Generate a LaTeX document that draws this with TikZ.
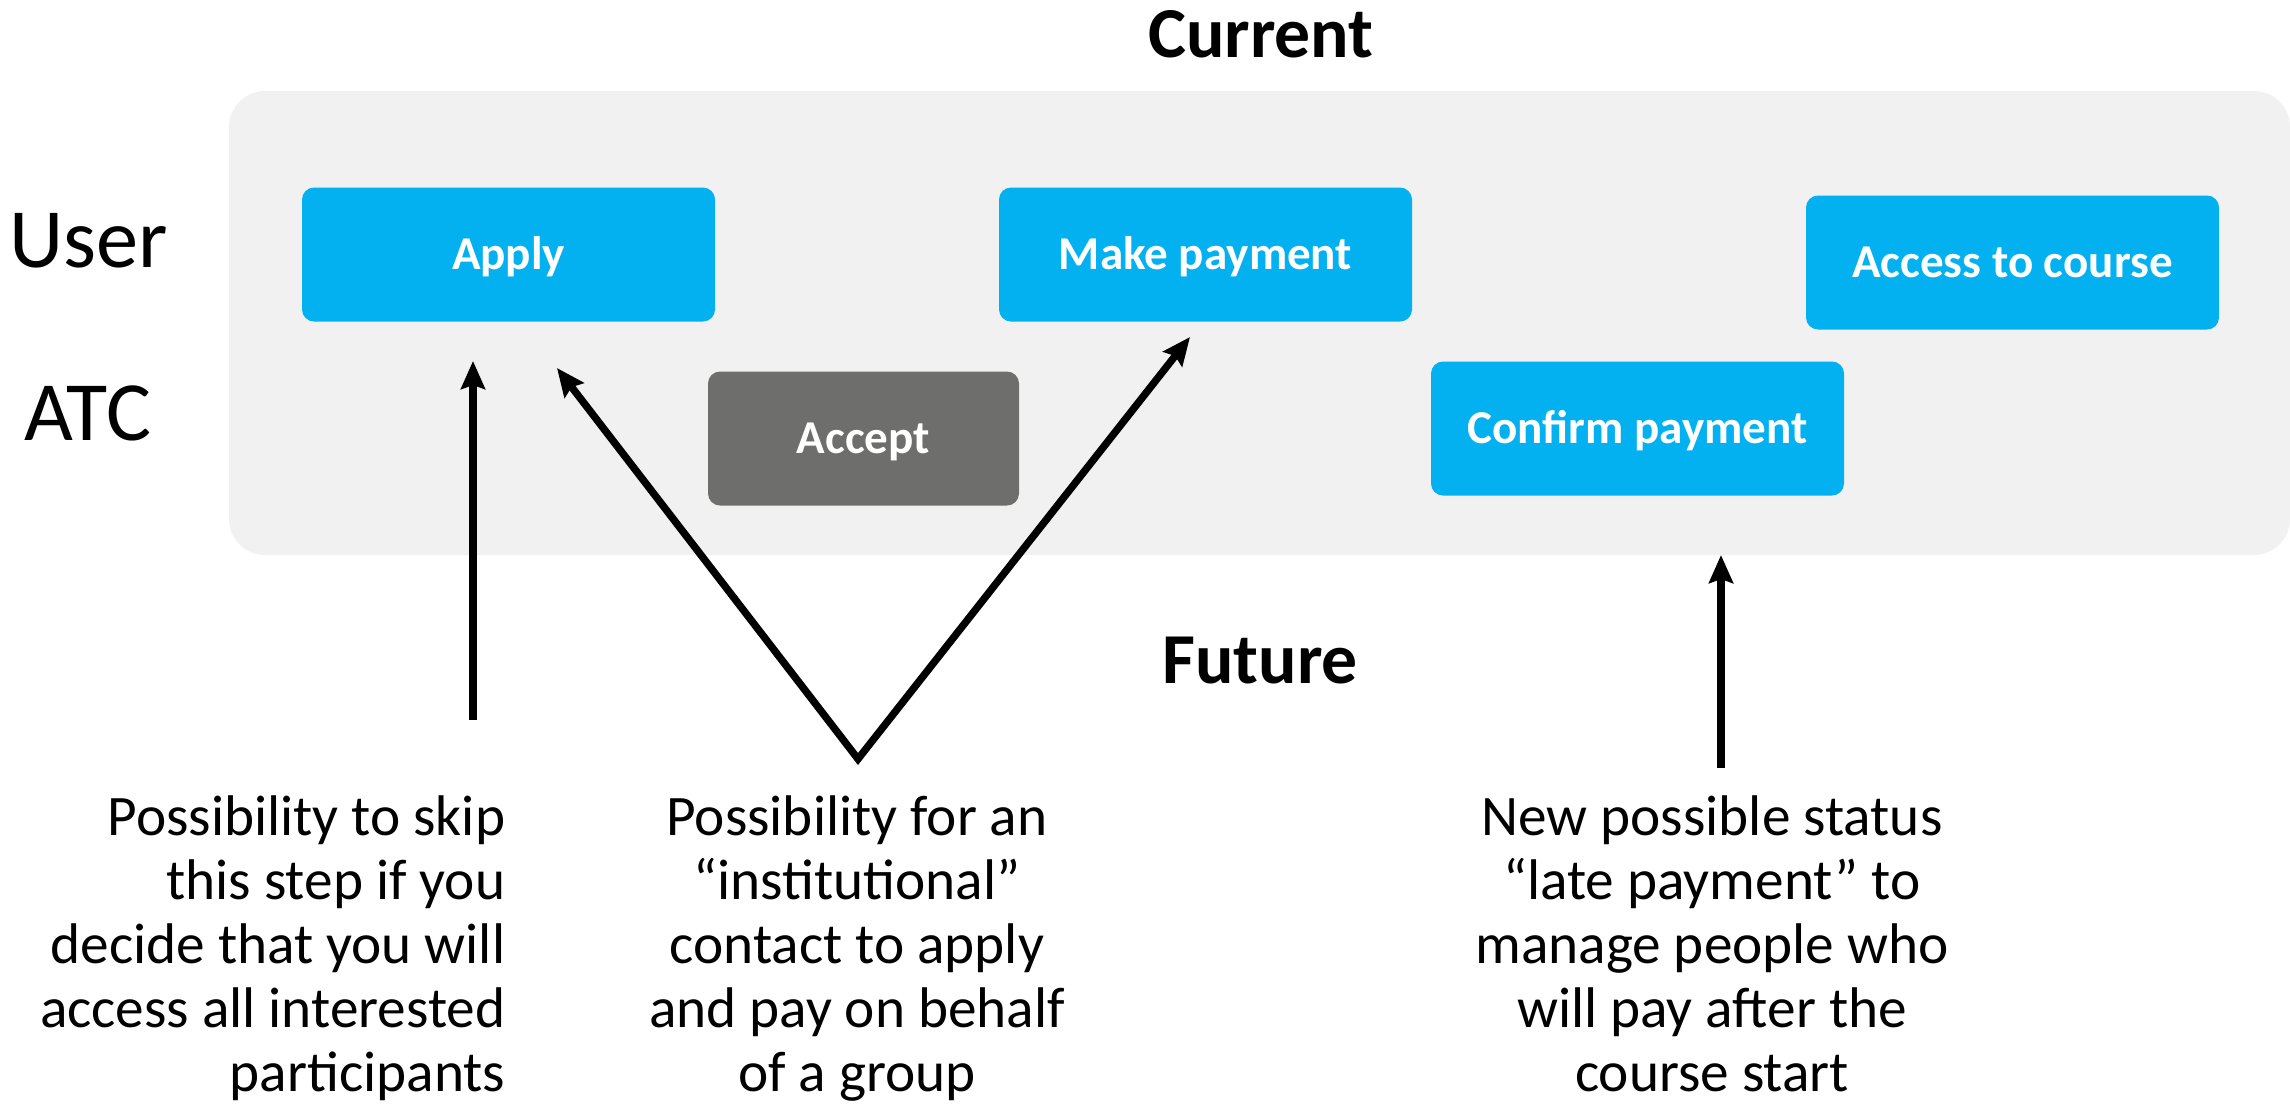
\documentclass[tikz,border=0pt]{standalone}
\usepackage{fontspec}
\setmainfont{Carlito}
\usepackage{xcolor}
\usetikzlibrary{arrows.meta}
\definecolor{stepblue}{HTML}{03B1F0}
\definecolor{stepgrey}{HTML}{6E6E6C}
\definecolor{panelgrey}{HTML}{F1F1F1}

\begin{document}
\begin{tikzpicture}[x=0.1mm, y=-0.1mm, >={Stealth[length=2.8mm, width=2.4mm, inset=0.4mm]}]

                \tikzstyle{stepbox} = [rectangle, rounded corners=1.2mm, fill=stepblue, text=white, font=\fontsize{13.4}{16}\selectfont\bfseries, minimum width=41.3mm, minimum height=13.4mm, text height=8.6pt, text depth=0pt, inner sep=0pt]
                \tikzstyle{note}    = [font=\fontsize{16.3}{18.2}\selectfont, inner sep=0pt]
                \tikzstyle{lane}    = [font=\fontsize{24}{28}\selectfont, inner sep=0pt, anchor=base]
                \tikzstyle{title}   = [font=\fontsize{20.4}{24}\selectfont\bfseries, inner sep=0pt, anchor=base]
                \tikzstyle{hint}    = [line width=2.1pt, ->]

                \useasboundingbox (0,0) rectangle (2290,1104);

                % current process
                \fill [panelgrey, rounded corners=3.6mm] (229,91) rectangle (2290,555);

                \node [title](current) at (1261,57) {Current};
                \node [title](future) at (1260,683) {Future};

                \node [lane](user) at (89,267) {User};
                \node [lane](atc) at (88,440) {ATC};

                \node [stepbox](apply) at (508.5,254.5) {Apply};
                \node [stepbox](pay) at (1205.5,254.5) {Make payment};
                \node [stepbox](access) at (2012.5,262.5) {Access to course};
                \node [stepbox, fill=stepgrey, minimum width=31.1mm](accept) at (863.5,438.5) {Accept};
                \node [stepbox](confirm) at (1637.5,428.5) {Confirm payment};

                % future changes
                \node [note, align=right, anchor=north east](skip) at (506,795)
                        {Possibility to skip\\this step if you\\decide that you will\\access all interested\\participants};
                \node [note, align=center, anchor=north](group) at (857,795)
                        {Possibility for an\\``institutional''\\contact to apply\\and pay on behalf\\of a group};
                \node [note, align=center, anchor=north](late) at (1712,795)
                        {New possible status\\``late payment'' to\\manage people who\\will pay after the\\course start};

                \coordinate (skiptop) at (473,720);
                \coordinate (applyin) at (473,361);
                \coordinate (groupv) at (858,759);
                \coordinate (applyin2) at (557,368);
                \coordinate (payin) at (1190,337);
                \coordinate (latetop) at (1721,768);
                \coordinate (confirmin) at (1721,555);

                \draw [hint] (skiptop) -- (applyin);
                \draw [hint, <->] (applyin2) -- (groupv) -- (payin);
                \draw [hint] (latetop) -- (confirmin);

\end{tikzpicture}
\end{document}
